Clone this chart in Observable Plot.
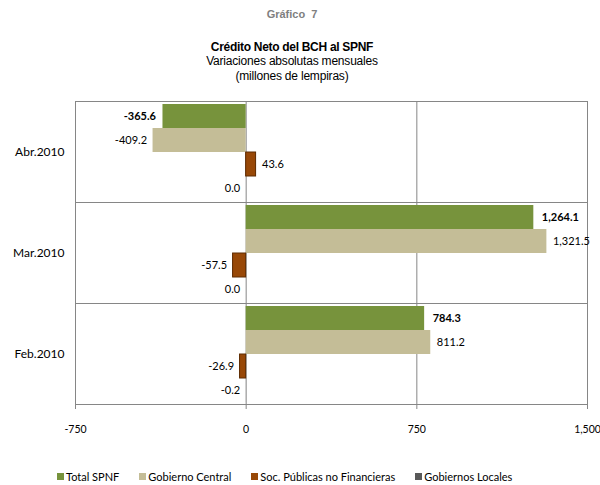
<!DOCTYPE html>
<html>
<head>
<meta charset="utf-8">
<script src="https://cdn.jsdelivr.net/npm/d3@7"></script>
<script src="https://cdn.jsdelivr.net/npm/@observablehq/plot@0.6"></script>
<style>
  body { margin:0; background:#fff; width:600px; height:485px; position:relative; overflow:hidden; }
  #titles { position:absolute; left:0; top:0; width:584px; text-align:center; font-family:"Liberation Sans", Arial, sans-serif; }
  #t0 { position:absolute; top:8px; width:100%; font-size:11px; font-weight:bold; color:#808080; }
  #t1 { position:absolute; top:40px; width:100%; font-size:12px; font-weight:bold; color:#000; letter-spacing:-0.3px; }
  #t2 { position:absolute; top:54px; width:100%; font-size:12px; color:#000; letter-spacing:-0.2px; }
  #t3 { position:absolute; top:69px; width:100%; font-size:12px; color:#000; letter-spacing:-0.2px; }
  #chart { position:absolute; left:0; top:99px; }
  #chart svg { overflow:visible; }
  #legend { position:absolute; left:57px; top:470px; display:flex; gap:20px; font-family:Lato, sans-serif; font-size:11px; color:#000; }
  #legend .it { display:flex; align-items:center; gap:2px; }
  #legend .sw { width:7px; height:7px; display:inline-block; }
</style>
</head>
<body>
<div id="titles">
  <div id="t0">Gráfico&nbsp; 7</div>
  <div id="t1">Crédito Neto del BCH al SPNF</div>
  <div id="t2">Variaciones absolutas mensuales</div>
  <div id="t3">(millones de lempiras)</div>
</div>
<div id="chart"></div>
<div id="legend"></div>
<script>
const months = ["Abr.2010", "Mar.2010", "Feb.2010"];
const series = ["Total SPNF", "Gobierno Central", "Soc. Públicas no Financieras", "Gobiernos Locales"];
const totalSPNF = [-365.6, 1264.1, 784.3];
const gobiernoCentral = [-409.2, 1321.5, 811.2];
const socPublicas = [43.6, -57.5, -26.9];
const gobiernosLocales = [0.0, 0.0, -0.2];
const xTicks = [-750, 0, 750, 1500];
const colors = ["#77933C", "#C4BD97", "#984807", "#595959"];

const seriesValues = [totalSPNF, gobiernoCentral, socPublicas, gobiernosLocales];
const data = [];
months.forEach((m, i) => {
  series.forEach((s, j) => data.push({month: m, series: s, value: seriesValues[j][i]}));
});

const fmt = v => d3.format(",.1f")(v).replace("\u2212", "-");
const tfmt = v => d3.format(",")(v).replace("\u2212", "-");

const pos = data.filter(d => d.value > 0);
const neg = data.filter(d => d.value <= 0);
const isTotal = d => d.series === "Total SPNF";

const chart = Plot.plot({
  width: 600,
  height: 351,
  marginLeft: 75,
  marginRight: 13,
  marginTop: 1,
  marginBottom: 45,
  x: {domain: [-750, 1500], label: null},
  fy: {domain: months, padding: 0, label: null},
  y: {domain: series, paddingInner: 0, paddingOuter: 0.1, axis: null},
  color: {domain: series, range: colors},
  style: {fontFamily: "Lato, sans-serif", fontSize: "11px", color: "#000", background: "#fff"},
  marks: [
    Plot.ruleX(xTicks.slice(1), {stroke: "#868686", strokeWidth: 1}),
    Plot.frame({stroke: "#868686", strokeWidth: 1}),
    Plot.barX(data, {x: "value", y: "series", fy: "month", fill: "series"}),
    Plot.barX(data.filter(d => d.series === "Soc. Públicas no Financieras"), {x: "value", y: "series", fy: "month", fill: "series", stroke: "#5E2C03", strokeWidth: 1}),
    Plot.text(pos.filter(d => !isTotal(d)), {x: "value", y: "series", fy: "month", text: d => fmt(d.value), textAnchor: "start", dx: 6, fill: "#000"}),
    Plot.text(neg.filter(d => !isTotal(d)), {x: "value", y: "series", fy: "month", text: d => fmt(d.value), textAnchor: "end", dx: -6, fill: "#000"}),
    Plot.text(pos.filter(isTotal), {x: "value", y: "series", fy: "month", text: d => fmt(d.value), textAnchor: "start", dx: 8, fill: "#000", fontWeight: "bold"}),
    Plot.text(neg.filter(isTotal), {x: "value", y: "series", fy: "month", text: d => fmt(d.value), textAnchor: "end", dx: -7, fill: "#000", fontWeight: "bold"}),
    Plot.axisX({ticks: xTicks, tickFormat: tfmt, tickSize: 5, tickPadding: 16, stroke: "#868686", fill: "#000", fontSize: 10.5}),
    Plot.axisFy({anchor: "left", tickSize: 0, tickPadding: 11, label: null, fill: "#000", fontSize: 12})
  ]
});
document.getElementById("chart").appendChild(chart);

const legend = document.getElementById("legend");
series.forEach((s, j) => {
  const it = document.createElement("div");
  it.className = "it";
  const sw = document.createElement("span");
  sw.className = "sw";
  sw.style.background = colors[j];
  const tx = document.createElement("span");
  tx.textContent = s;
  it.appendChild(sw);
  it.appendChild(tx);
  legend.appendChild(it);
});
</script>
</body>
</html>
